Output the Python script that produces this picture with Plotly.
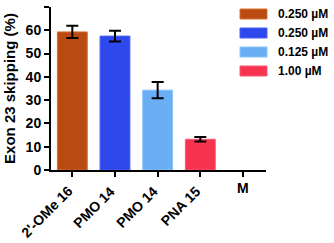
import plotly.graph_objects as go

categories = ["2'-OMe 16", "PMO 14", "PMO 14", "PNA 15", "M"]
values = [59.3, 57.5, 34.3, 13.2, 0]
errors = [2.6, 2.3, 3.5, 1.0, 0]
colors = ["#B84A12", "#2E48EE", "#6AAEF6", "#F7334F", "#FFFFFF"]
line_colors = ["#D9702E", "#4A63F5", "#8CC2F8", "#FA5A70", "#FFFFFF"]
legend_labels = ["0.250 µM", "0.250 µM", "0.125 µM", "1.00 µM"]
yticks = [0, 10, 20, 30, 40, 50, 60, 70]

FONT = "Arial"
xs = list(range(len(categories)))

fig = go.Figure()
fig.add_trace(go.Bar(
    x=xs[:4], y=values[:4], width=0.7,
    marker=dict(color=colors[:4], line=dict(color=line_colors[:4], width=1)),
    error_y=dict(type="data", array=errors[:4], color="black", thickness=2, width=6),
    showlegend=False, hoverinfo="skip",
))

fig.update_layout(
    width=334, height=243,
    margin=dict(l=51, r=68, t=7, b=73),
    plot_bgcolor="white", paper_bgcolor="white",
    font=dict(family=FONT, color="black", weight="bold"),
    xaxis=dict(
        range=[-0.5, 4.54], tickmode="array", tickvals=xs, ticktext=[""] * len(xs),
        ticks="outside", ticklen=5, tickwidth=2, tickcolor="black",
        showline=True, linecolor="black", linewidth=2, showgrid=False, zeroline=False,
    ),
    yaxis=dict(
        range=[0, 70], tickmode="array", tickvals=yticks, ticktext=[str(t) for t in yticks],
        ticks="outside", ticklen=5, tickwidth=2, tickcolor="black",
        showline=True, linecolor="black", linewidth=2, showgrid=False, zeroline=False,
        tickfont=dict(size=14, family=FONT, weight="bold"),
        title=dict(text="Exon 23 skipping (%)", font=dict(size=15, family=FONT, weight="bold"), standoff=6),
    ),
)

# category labels (rotated, except "M")
for x, c in zip(xs, categories):
    if c == "M":
        fig.add_annotation(x=x, xref="x", y=0, yref="paper", yshift=-18, text=c, showarrow=False,
                           yanchor="middle", font=dict(size=14, family=FONT, weight="bold"))
    else:
        fig.add_annotation(x=x, xref="x", y=0, yref="paper", xshift=6, yshift=-10, text=c,
                           showarrow=False, textangle=-45, xanchor="right", yanchor="top",
                           font=dict(size=14, family=FONT, weight="bold"))

# legend
for i, (lab, col, lc) in enumerate(zip(legend_labels, colors, line_colors)):
    yc = 14 + 19 * i
    y0 = 1 - (yc - 5 - 7) / 163
    y1 = 1 - (yc + 5 - 7) / 163
    fig.add_shape(type="rect", xref="paper", yref="paper",
                  x0=(240 - 51) / 215, x1=(267 - 51) / 215, y0=y1, y1=y0,
                  fillcolor=col, line=dict(color=lc, width=1))
    fig.add_annotation(xref="paper", yref="paper", x=(276 - 51) / 215, y=1 - (yc - 7) / 163,
                       text=lab, showarrow=False, xanchor="left", yanchor="middle",
                       font=dict(size=12, family=FONT, weight="bold"))

fig.write_html("out.html", config={"displayModeBar": False, "staticPlot": True},
               post_script="document.body.style.margin='0';document.body.style.padding='0';")
